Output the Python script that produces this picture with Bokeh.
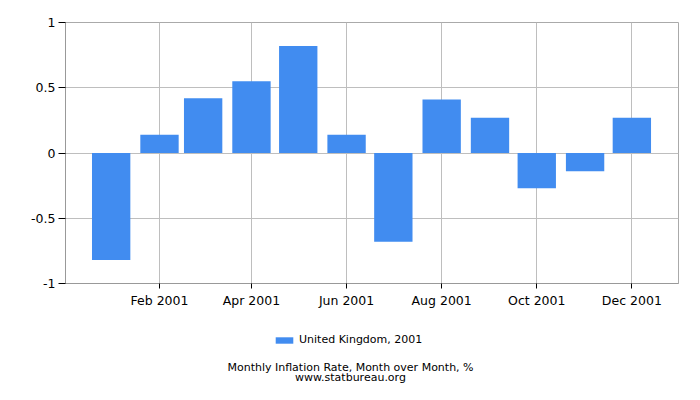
from datetime import datetime
from bokeh.plotting import figure
from bokeh.layouts import column
from bokeh.models import (Range1d, FixedTicker, DatetimeTickFormatter, Legend,
                          LegendItem, Label, ColumnDataSource, CDSView, IndexFilter)
from bokeh.embed import file_html
from bokeh.resources import INLINE

EPOCH = datetime(1970, 1, 1)
def ms(d):
    return (d - EPOCH).total_seconds() * 1000.0

months = [datetime(2001, m, 1) for m in range(1, 13)]
values = [-0.82, 0.14, 0.42, 0.55, 0.82, 0.14, -0.68, 0.41, 0.27, -0.27, -0.14, 0.27]
tick_dates = [datetime(2001, m, 1) for m in (2, 4, 6, 8, 10, 12)]
y_ticks = [-1, -0.5, 0, 0.5, 1]
series_name = "United Kingdom, 2001"
title_text = "Monthly Inflation Rate, Month over Month, %"
source_text = "www.statbureau.org"

FONT = "DejaVu Sans"
GRID = "#BEBEBE"
BAR = "#418CF0"
BAR_W = 24.6 * 86400000

src = ColumnDataSource(dict(x=[ms(d) for d in months], top=values))

xr = Range1d(ms(datetime(2000, 12, 2, 17)), ms(datetime(2001, 12, 30, 22)))

p = figure(width=684, height=313, output_backend="svg", toolbar_location=None,
           x_axis_type="datetime", x_range=xr, y_range=Range1d(-1, 1),
           min_border_left=65, min_border_right=6, min_border_top=22,
           min_border_bottom=30)

r = p.vbar(x="x", top="top", bottom=0, width=BAR_W, source=src,
           fill_color=BAR, line_color=None)

p.xaxis.ticker = FixedTicker(ticks=[ms(d) for d in tick_dates])
p.xaxis.formatter = DatetimeTickFormatter(months="%b %Y", days="%b %Y")
p.yaxis.ticker = FixedTicker(ticks=y_ticks)
p.yaxis.major_label_overrides = {-1: "-1", -0.5: "-0.5", 0: "0", 0.5: "0.5", 1: "1"}

for ax in (p.xaxis, p.yaxis):
    ax.major_label_text_font = FONT
    ax.major_label_text_font_size = "12.5px"
    ax.major_label_text_color = "#000000"
    ax.minor_tick_line_color = None
    ax.major_tick_line_color = "#000000"
    ax.major_tick_in = 0
    ax.axis_line_color = "#999999"

p.xaxis.major_tick_out = 5
p.yaxis.major_tick_out = 7
p.xaxis.major_label_standoff = 4
p.yaxis.major_label_standoff = 3

p.xgrid.grid_line_color = GRID
p.ygrid.grid_line_color = GRID
p.outline_line_color = "#AAAAAA"

# lower panel: legend and caption (its frame is aligned with the main frame)
p2 = figure(width=684, height=71, output_backend="svg", toolbar_location=None,
            x_range=xr, y_range=Range1d(10, 11),
            x_axis_location=None, y_axis_location=None,
            min_border_left=65, min_border_right=6, min_border_top=0,
            min_border_bottom=0)
p2.grid.visible = False
p2.outline_line_color = None
# first bar of the same series, far outside this panel's y range:
# only its legend swatch is visible
swatch = p2.vbar(x="x", top="top", bottom=0, width=BAR_W, source=src,
                 view=CDSView(filter=IndexFilter(indices=[0])),
                 fill_color=BAR, line_color=None)

legend = Legend(items=[LegendItem(label=series_name, renderers=[swatch])],
                orientation="horizontal", location=(208, 38),
                label_text_font=FONT, label_text_font_size="11px",
                label_text_color="#000000",
                glyph_width=22, glyph_height=8, label_height=8,
                label_standoff=4, border_line_color=None,
                background_fill_alpha=0, margin=0, padding=0)
p2.add_layout(legend, "center")

for txt, yy in ((title_text, 17), (source_text, 7)):
    p2.add_layout(Label(x=285, y=yy, x_units="screen", y_units="screen",
                        text=txt, text_align="center", text_baseline="middle",
                        text_font=FONT, text_font_size="11px",
                        text_color="#000000"))

layout = column(p, p2, spacing=0)
open("out.html", "w").write(file_html(layout, INLINE))
